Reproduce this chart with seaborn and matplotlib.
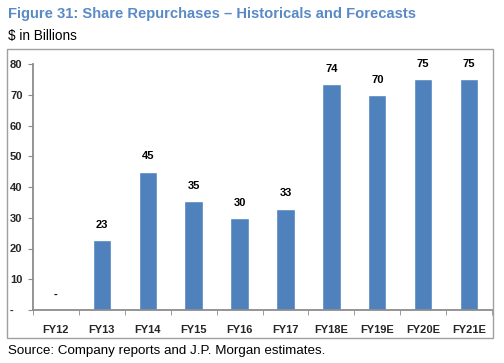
"""
Share Repurchases - Historicals and Forecasts
"""

import pandas as pd
import matplotlib.pyplot as plt
import seaborn as sns
from matplotlib.patches import Rectangle

years = ['FY12', 'FY13', 'FY14', 'FY15', 'FY16', 'FY17', 'FY18E', 'FY19E', 'FY20E', 'FY21E']
buybacks = [0, 22.8, 45, 35.4, 29.8, 33, 73.6, 70, 75, 75]
labels = ['-', '23', '45', '35', '30', '33', '74', '70', '75', '75']
y_ticks = [0, 10, 20, 30, 40, 50, 60, 70, 80]
y_tick_labels = ['-', '10', '20', '30', '40', '50', '60', '70', '80']

df = pd.DataFrame({'Year': years, 'Buyback': buybacks})

sns.set_style('white')
plt.rcParams['font.family'] = ['Liberation Sans Narrow', 'Liberation Sans', 'DejaVu Sans']

W, H = 504, 363
fig = plt.figure(figsize=(W / 100, H / 100), dpi=100)
ax = fig.add_axes([33 / W, 1 - 310 / H, (492 - 33) / W, (310 - 64) / H])

sns.barplot(data=df, x='Year', y='Buyback', color='#4F81BD', saturation=1,
            width=0.4, ax=ax)

for i, (v, lab) in enumerate(zip(buybacks, labels)):
    ax.text(i, v + 3.3, lab, ha='center', va='bottom', fontsize=8,
            fontweight='bold', color='black')

ax.set_ylim(0, 80)
ax.set_xlim(-0.5, len(years) - 0.5)
ax.set_yticks(y_ticks)
ax.set_yticklabels(y_tick_labels, fontsize=8, fontweight='bold')
ax.set_xticks(range(len(years)))
ax.set_xticklabels(years, fontsize=8, fontweight='bold')
ax.set_xticks([i + 0.5 for i in range(-1, len(years))], minor=True)
ax.tick_params(axis='x', which='major', length=0, pad=11)
ax.tick_params(axis='x', which='minor', length=3.5, color='#8C8C8C', direction='out')
ax.tick_params(axis='y', length=3.5, color='#8C8C8C', direction='out', pad=13)
ax.yaxis.set_tick_params(left=True)
ax.xaxis.set_tick_params(which='minor', bottom=True)
for lab in ax.get_yticklabels():
    lab.set_horizontalalignment('left')
ax.set_xlabel('')
ax.set_ylabel('')
sns.despine(ax=ax)
for s in ['left', 'bottom']:
    ax.spines[s].set_color('#8C8C8C')
    ax.spines[s].set_linewidth(1.3)

# chart frame
fig.patches.append(Rectangle((7 / W, 1 - 338 / H), 486 / W, 289 / H,
                             transform=fig.transFigure, fill=False,
                             edgecolor='#A0A0A0', linewidth=1))

fig.text(8 / W, 1 - 14 / H, 'Figure 31: Share Repurchases \u2013 Historicals and Forecasts',
         fontsize=10.6, fontweight='bold', color='#5A8AC6', va='center', ha='left',
         family=['Liberation Sans', 'DejaVu Sans'])
fig.text(8 / W, 1 - 36 / H, '$ in Billions', fontsize=9.8, color='black',
         va='center', ha='left', family=['Liberation Sans', 'DejaVu Sans'])
fig.text(8 / W, 1 - 351 / H, 'Source: Company reports and J.P. Morgan estimates.',
         fontsize=9.6, color='black', va='center', ha='left',
         family=['Liberation Sans', 'DejaVu Sans'])

plt.savefig('out.png', dpi=100)
plt.close()
